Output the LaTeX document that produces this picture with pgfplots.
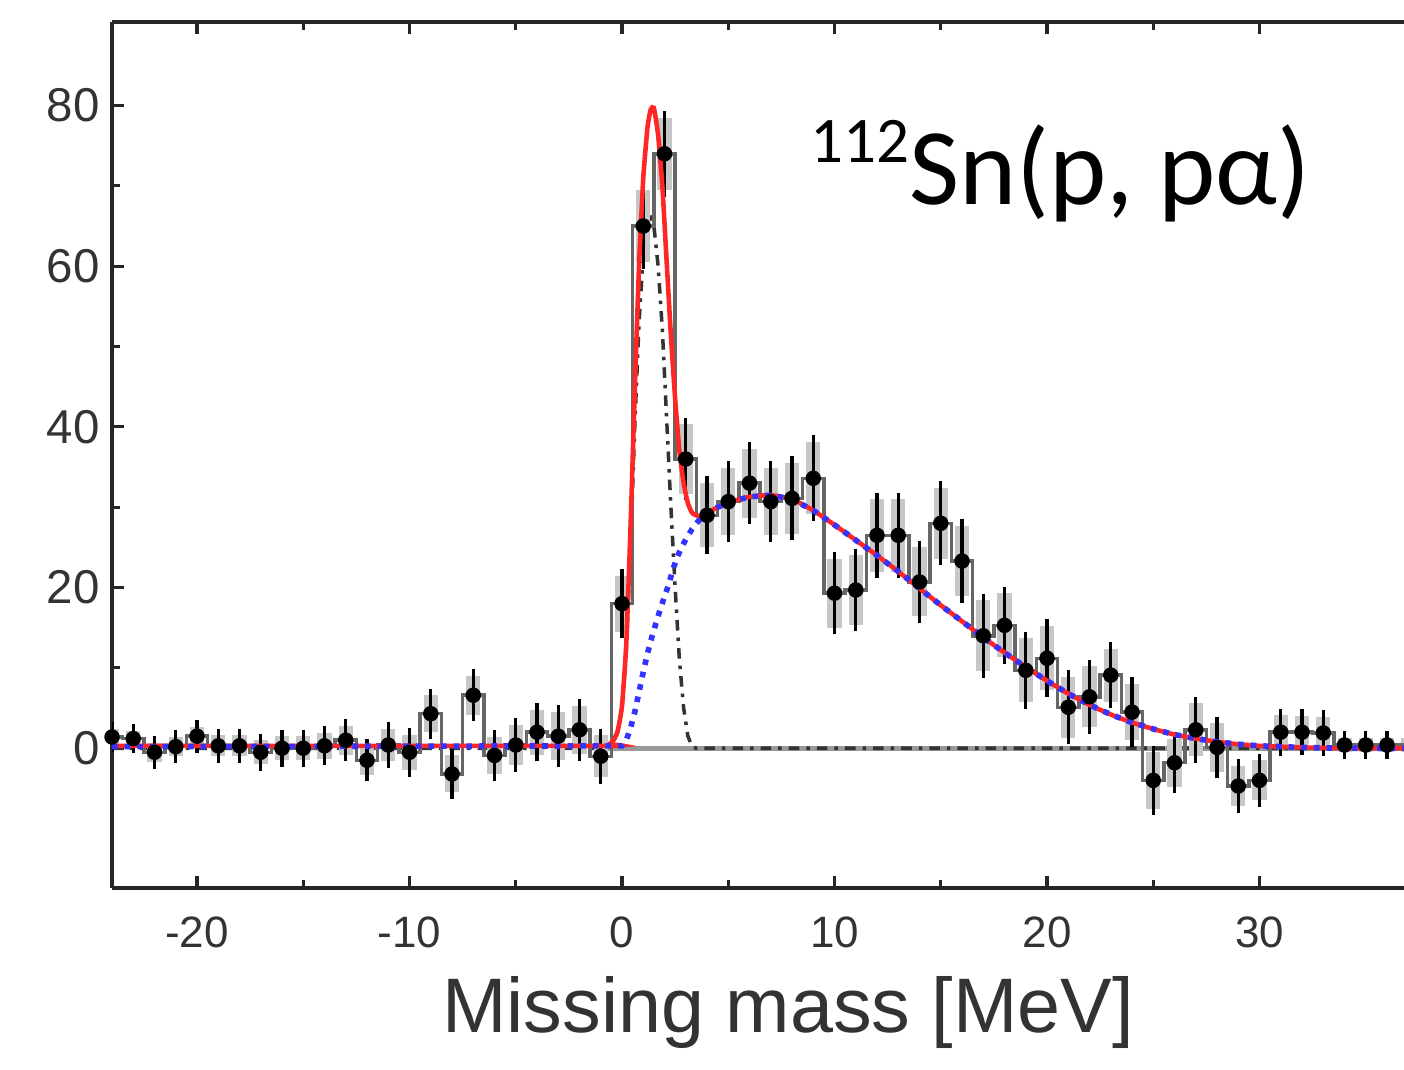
\documentclass[border=0pt]{standalone}
\usepackage{fontspec}
\setmainfont{Liberation Sans}
\newfontfamily\calibri{Carlito}
\usepackage{pgfplots}
\usepackage{pgfplotstable}
\pgfplotsset{compat=1.18}

% measured spectrum: bin centre, counts, error
\pgfplotstableread{
x y e
-24 1.4 1.0
-23 1.2 1.0
-22 -0.5 1.2
-21 0.2 1.2
-20 1.5 1.2
-19 0.3 1.3
-18 0.3 1.3
-17 -0.5 1.5
-16 0.0 1.5
-15 0.0 1.5
-14 0.3 1.6
-13 1.0 1.8
-12 -1.5 1.8
-11 0.4 2.0
-10 -0.5 2.2
-9 4.3 2.3
-8 -3.2 2.3
-7 6.6 2.4
-6 -0.9 2.3
-5 0.4 2.5
-4 2.0 2.8
-3 1.5 3.0
-2 2.3 3.0
-1 -1.0 2.6
0 18.0 3.5
1 65.0 4.5
2 74.0 4.5
3 36.0 4.3
4 29.0 4.0
5 30.7 4.2
6 33.0 4.3
7 30.7 4.2
8 31.1 4.4
9 33.6 4.5
10 19.3 4.3
11 19.7 4.3
12 26.5 4.5
13 26.5 4.5
14 20.7 4.3
15 28.0 4.4
16 23.3 4.4
17 14.0 4.4
18 15.3 4.0
19 9.7 4.0
20 11.2 4.0
21 5.1 3.8
22 6.4 3.8
23 9.1 3.3
24 4.5 3.5
25 -4.0 3.5
26 -1.8 3.0
27 2.3 3.3
28 0.1 3.0
29 -4.7 2.5
30 -4.0 2.5
31 2.0 2.1
32 2.0 2.0
33 1.9 2.0
34 0.4 0.9
35 0.4 0.9
36 0.4 0.9
37 0.4 0.9
}\data

\begin{document}
\begin{tikzpicture}
\begin{axis}[
    name=ax,
    scale only axis,
    width=12.92cm, height=8.66cm,
    xmin=-24, xmax=36.8,
    ymin=-17.4, ymax=90.4,
    axis x line=box, axis y line=left,
    axis line style={line width=1.2pt, black!85, -},
    xtick={-20,-10,...,30},
    ytick={0,20,...,80},
    minor x tick num=1, minor y tick num=1,
    tick align=inside,
    major tick length=1.2mm, minor tick length=0.8mm,
    tick style={line width=0.9pt, black!85},
    every x tick label/.append style={font=\fontsize{12.5}{14}\selectfont, text=black!80, yshift=-1.6mm},
    every y tick label/.append style={font=\fontsize{13.5}{15}\selectfont, text=black!80},
    /pgf/number format/assume math mode=true,
    xlabel={Missing mass [MeV]},
    xlabel style={font=\fontsize{22}{25}\selectfont, text=black!80, yshift=-0.5mm, xshift=3mm},
    clip=true,
]
% zero line
\addplot[black!40, line width=1.4pt, forget plot] coordinates {(-1,0) (36.8,0)};
% narrow component
\addplot[black!80, line width=1pt, dash dot, forget plot] coordinates {
(-24,0) (-0.8,0) (-0.4,0.8) (-0.2,2) (0,5) (0.2,12) (0.4,25) (0.6,40) (0.8,53)
(1.0,61.5) (1.2,65.5) (1.35,66) (1.5,65) (1.7,60) (1.9,52) (2.1,41) (2.3,30)
(2.5,20) (2.7,11) (2.9,5) (3.1,1.5) (3.3,0.2) (3.5,0) (36.8,0)
};
% error boxes
\addplot[only marks, mark=none, forget plot,
    error bars/.cd, y dir=both, y explicit, error mark=none,
    error bar style={line width=4pt, black!22}]
    table[x=x, y=y, y error=e] {\data};
% histogram
\addplot[const plot mark mid, black!60, line width=1pt, forget plot]
    table[x=x, y=y] {\data};
% data points
\addplot[only marks, mark=*, mark size=1.6pt, black, forget plot,
    error bars/.cd, y dir=both, y explicit,
    error bar style={line width=0.9pt, black},
    error mark options={line width=0.9pt, mark size=1.9pt, black}]
    table[x=x, y=y, y error=e] {\data};
% total fit
\addplot[red!85!white, line width=1.3pt, smooth, tension=0.3] coordinates {
(-24,0.3) (-1,0.3) (-0.6,0.5) (-0.4,1.0) (-0.2,2.2) (0,5.3) (0.2,13) (0.4,27.5)
(0.6,44.5) (0.8,60) (1.0,71) (1.2,77.3) (1.35,79.5) (1.5,79.7) (1.7,76.3)
(1.9,69.9) (2.1,60.6) (2.3,51.4) (2.5,43.5) (2.7,37) (2.9,33) (3.1,30.5)
(3.3,29.3) (3.6,28.9) (4.0,29.3) (4.5,30.0) (5,30.6) (6,31.3) (7,31.5) (8,31)
(9,29.6) (10,27.8) (11,25.9) (12,24) (13,22) (14,19.9) (15,17.8) (16,15.8)
(17,13.8) (18,11.9) (19,10.1) (20,8.4) (21,6.8) (22,5.4) (23,4.2) (24,3.2)
(25,2.4) (26,1.7) (27,1.2) (28,0.8) (29,0.5) (30,0.3) (32,0.1) (34,0) (36.8,0)
};
% broad component
\addplot[blue!80!white, line width=1.6pt, dotted] coordinates {
(-24,0.2) (0,0.3) (0.2,1) (0.4,2.5) (0.6,4.5) (0.8,7) (1.0,9.5)
(1.2,11.8) (1.4,13.8) (1.6,15.6) (1.8,17.3) (2.0,18.9) (2.2,20.4) (2.4,22.3)
(2.6,23.8) (2.8,25) (3.0,26) (3.3,27.3) (3.6,28.3) (4.0,29.2) (4.5,30.0)
(5,30.6) (6,31.3) (7,31.5) (8,31) (9,29.6) (10,27.8) (11,25.9) (12,24) (13,22)
(14,19.9) (15,17.8) (16,15.8) (17,13.8) (18,11.9) (19,10.1) (20,8.4) (21,6.8)
(22,5.4) (23,4.2) (24,3.2) (25,2.4) (26,1.7) (27,1.2) (28,0.8) (29,0.5)
(30,0.3) (32,0.1) (34,0) (36.8,0)
};
\node[anchor=base west, inner sep=0pt, font=\calibri\fontsize{31}{34}\selectfont]
    at (rel axis cs:0.540,0.789)
    {\raisebox{12pt}{\fontsize{18.5}{19}\selectfont 112}Sn(p, pα)};
\coordinate (BL) at (rel axis cs:-0.0867,-0.209);
\coordinate (TR) at (rel axis cs:1,1.0254);
\end{axis}
\pgfresetboundingbox
\useasboundingbox (BL) rectangle (TR);
\end{tikzpicture}
\end{document}
